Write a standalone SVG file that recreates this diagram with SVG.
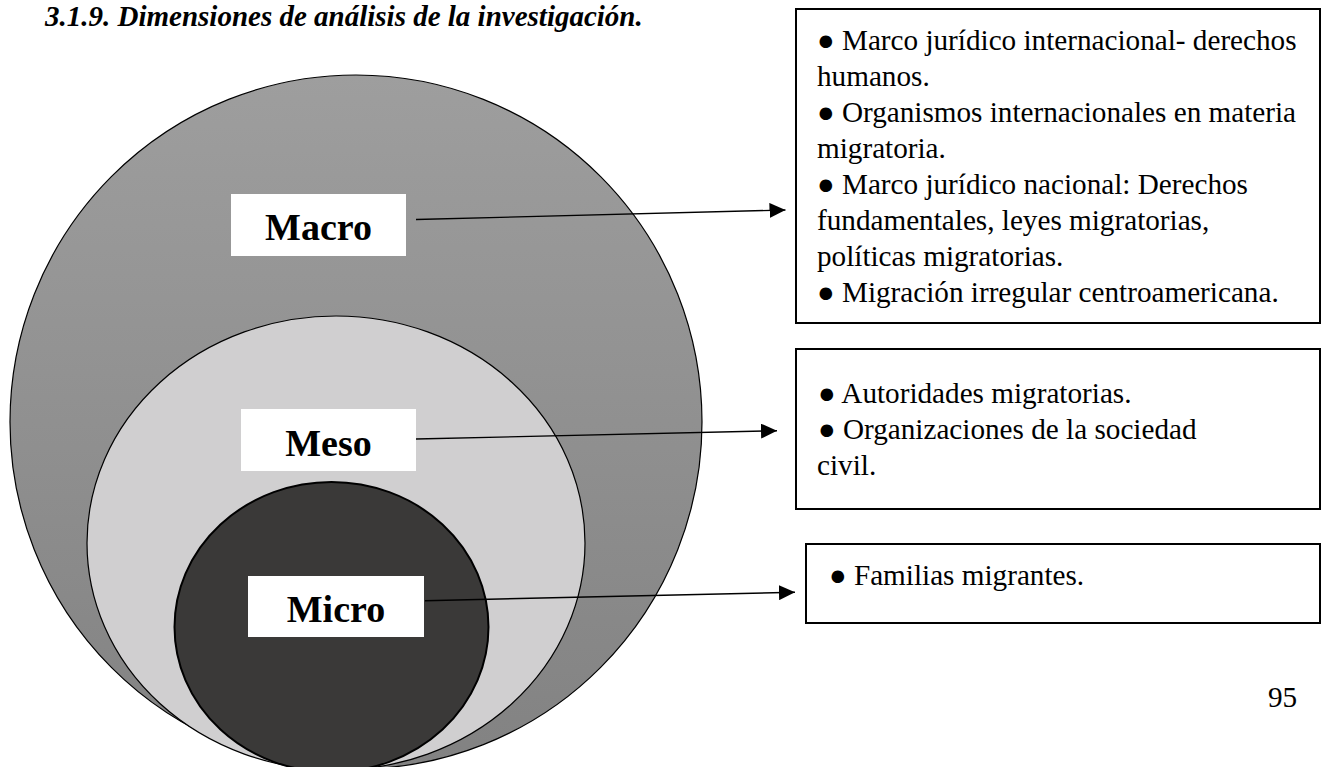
<svg xmlns="http://www.w3.org/2000/svg" width="1322" height="767" viewBox="0 0 1322 767">
  <defs>
    <linearGradient id="gOuter" x1="0" y1="0" x2="0" y2="1">
      <stop offset="0" stop-color="#9e9e9e"/>
      <stop offset="1" stop-color="#828282"/>
    </linearGradient>
    <marker id="arrow" markerUnits="userSpaceOnUse" markerWidth="16" markerHeight="15" refX="16" refY="7.5" orient="auto">
      <path d="M0,0 L16,7.5 L0,15 Z" fill="#000"/>
    </marker>
    <style>
      .lbl { fill: #ffffff; stroke: none; }
      .lbltxt { font-family: "Liberation Serif", "Times New Roman", serif; font-weight: bold; font-size: 38px; fill: #000; text-anchor: middle; }
      .box { fill: #ffffff; stroke: #000; stroke-width: 2; }
      .bt { font-family: "Liberation Serif", "Times New Roman", serif; font-size: 29.2px; fill: #000; }
      .title { font-family: "Liberation Serif", "Times New Roman", serif; font-size: 29px; font-weight: bold; font-style: italic; fill: #000; }
      .conn { stroke: #000; stroke-width: 1.4; fill: none; }
    </style>
  </defs>

  <rect x="0" y="0" width="1322" height="767" fill="#ffffff"/>

  <text class="title" x="45" y="26">3.1.9. Dimensiones de análisis de la investigación.</text>

  <g id="macro">
    <ellipse cx="356" cy="422" rx="346" ry="347" fill="url(#gOuter)" stroke="#000" stroke-width="1.2"/>
    <rect class="lbl" x="231" y="194" width="175" height="62"/>
    <text class="lbltxt" x="318.5" y="240">Macro</text>
  </g>

  <g id="meso">
    <ellipse cx="336" cy="543" rx="249" ry="227" fill="#d0cfd0" stroke="#000" stroke-width="1.2"/>
    <rect class="lbl" x="241" y="409" width="175" height="62"/>
    <text class="lbltxt" x="328.5" y="456">Meso</text>
  </g>

  <g id="micro">
    <ellipse cx="331.5" cy="627" rx="157" ry="145" fill="#3a3938" stroke="#000" stroke-width="2"/>
    <rect class="lbl" x="248" y="576" width="176" height="61"/>
    <text class="lbltxt" x="336" y="622">Micro</text>
  </g>

  <g id="box-macro">
    <rect class="box" x="796" y="9" width="524" height="314"/>
    <text class="bt" x="817" y="50">● Marco jurídico internacional- derechos</text>
    <text class="bt" x="817" y="86">humanos.</text>
    <text class="bt" x="817" y="122">● Organismos internacionales en materia</text>
    <text class="bt" x="817" y="158">migratoria.</text>
    <text class="bt" x="817" y="194">● Marco jurídico nacional: Derechos</text>
    <text class="bt" x="817" y="229.5">fundamentales, leyes migratorias,</text>
    <text class="bt" x="817" y="265.5">políticas migratorias.</text>
    <text class="bt" x="817" y="301.5">● Migración irregular centroamericana.</text>
  </g>

  <g id="box-meso">
    <rect class="box" x="796" y="349" width="524" height="160"/>
    <text class="bt" x="818" y="403">● Autoridades migratorias.</text>
    <text class="bt" x="818" y="439">● Organizaciones de la sociedad</text>
    <text class="bt" x="817" y="475">civil.</text>
  </g>

  <g id="box-micro">
    <rect class="box" x="806" y="544" width="514" height="79"/>
    <text class="bt" x="829" y="585">● Familias migrantes.</text>
  </g>

  <g id="connectors">
    <line class="conn" x1="416" y1="219.5" x2="785.5" y2="210" marker-end="url(#arrow)"/>
    <line class="conn" x1="416" y1="439" x2="777" y2="430.7" marker-end="url(#arrow)"/>
    <line class="conn" x1="425" y1="600.7" x2="795" y2="592.3" stroke-width="2.2" marker-end="url(#arrow)"/>
  </g>

  <text class="bt" x="1268" y="707">95</text>
</svg>
